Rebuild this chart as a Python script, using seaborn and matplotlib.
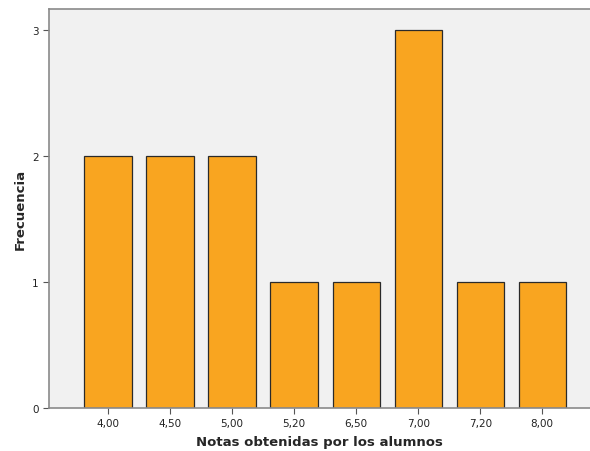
import matplotlib
matplotlib.use('Agg')
import matplotlib.pyplot as plt
import seaborn as sns
import pandas as pd

# Datos del histograma de notas
notas = ['4,00', '4,50', '5,00', '5,20', '6,50', '7,00', '7,20', '8,00']
frecuencia = [2, 2, 2, 1, 1, 3, 1, 1]

df = pd.DataFrame({'nota': notas, 'frecuencia': frecuencia})

sns.set_style('white')
plt.rcParams['font.family'] = ['DejaVu Sans']

fig = plt.figure(figsize=(5.9, 4.52), dpi=100)
ax = fig.add_axes([49 / 590, 43 / 452, 541 / 590, 399 / 452])
ax.set_facecolor('#F1F1F1')

sns.barplot(data=df, x='nota', y='frecuencia', color='#F9A520', saturation=1,
            edgecolor='#2a2a2a', linewidth=0.9, width=0.76, ax=ax)

ax.set_xlim(-0.95, 7.77)
ax.set_ylim(0, 3.167)
ax.set_yticks([0, 1, 2, 3])
ax.set_yticklabels(['0', '1', '2', '3'])

ax.tick_params(axis='both', labelsize=7.5, colors='#222222', length=4, width=0.8,
               direction='out', bottom=True, left=True)
ax.tick_params(axis='both', color='#555555')

for side in ['left', 'bottom', 'top']:
    ax.spines[side].set_color('#8A8A8A')
    ax.spines[side].set_linewidth(1.2)
ax.spines['right'].set_visible(False)

ax.set_xlabel('Notas obtenidas por los alumnos', fontsize=9.5, fontweight='bold', labelpad=5)
ax.set_ylabel('Frecuencia', fontsize=9.5, fontweight='bold', labelpad=4)

fig.savefig('out.png', dpi=100)
